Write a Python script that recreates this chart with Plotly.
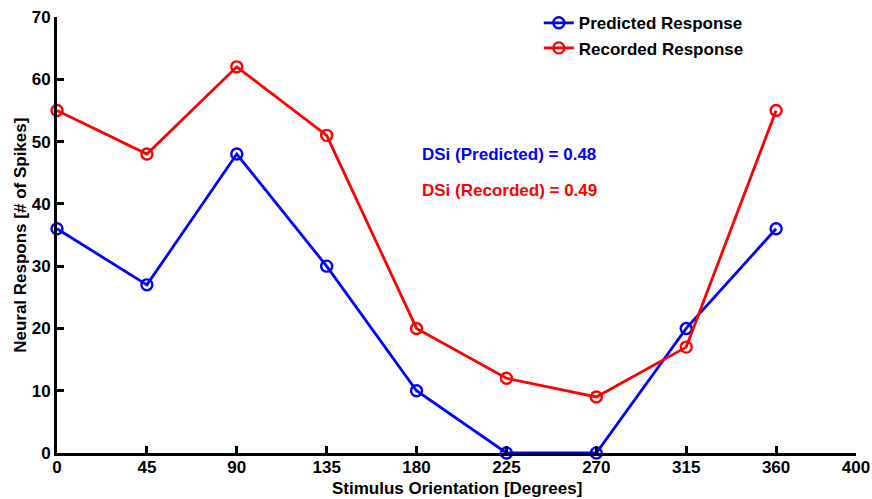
import plotly.graph_objects as go

orientation = [0, 45, 90, 135, 180, 225, 270, 315, 360]
predicted = [36, 27, 48, 30, 10, 0, 0, 20, 36]
recorded = [55, 48, 62, 51, 20, 12, 9, 17, 55]
dsi_predicted = 0.48
dsi_recorded = 0.49

x_ticks = [0, 45, 90, 135, 180, 225, 270, 315, 360, 400]
y_ticks = [0, 10, 20, 30, 40, 50, 60, 70]

font_bold = "Liberation Sans"
fs = 17

fig = go.Figure()
for name, vals, color in [("Predicted Response", predicted, "#0000ff"),
                          ("Recorded Response", recorded, "#ff0000")]:
    fig.add_trace(go.Scatter(
        x=orientation, y=vals, name=name, mode="lines+markers",
        line=dict(color=color, width=2.8),
        marker=dict(symbol="circle-open", size=11, color=color, line=dict(width=2.4, color=color)),
        cliponaxis=False,
    ))

fig.add_annotation(x=181.5, y=48, xref="x", yref="y", xanchor="left", yanchor="middle",
                   text=f"<b>DSi (Predicted) = {dsi_predicted:.2f}</b>", showarrow=False,
                   font=dict(family=font_bold, size=fs, color="#0000ff"))
fig.add_annotation(x=181.5, y=42.2, xref="x", yref="y", xanchor="left", yanchor="middle",
                   text=f"<b>DSi (Recorded) = {dsi_recorded:.2f}</b>", showarrow=False,
                   font=dict(family=font_bold, size=fs, color="#ff0000"))

# axis titles
fig.add_annotation(x=0.5, y=-0.081, xref="paper", yref="paper", xanchor="center", yanchor="middle",
                   text="<b>Stimulus Orientation [Degrees]</b>", showarrow=False,
                   font=dict(family=font_bold, size=fs, color="black"))
fig.add_annotation(x=-0.0465, y=0.5, xref="paper", yref="paper", xanchor="center", yanchor="middle",
                   text="<b>Neural Respons [# of Spikes]</b>", showarrow=False, textangle=-90,
                   font=dict(family=font_bold, size=fs, color="black"))

axis_common = dict(
    showline=True, linecolor="black", linewidth=2.8, showgrid=False, zeroline=False,
    ticks="inside", ticklen=7, tickwidth=2.8, tickcolor="black",
    tickfont=dict(family=font_bold, size=fs, color="black", weight="bold"),
    mirror=False, automargin=False,
)

fig.update_layout(
    width=872, height=499,
    margin=dict(l=57, r=16, t=17, b=46, autoexpand=False),
    paper_bgcolor="white", plot_bgcolor="white",
    xaxis=dict(range=[0, 400], tickvals=x_ticks, ticktext=[str(v) for v in x_ticks],
               ticklabelstandoff=-3, **axis_common),
    yaxis=dict(range=[0, 70], tickvals=y_ticks, ticktext=[str(v) for v in y_ticks], **axis_common),
    legend=dict(x=0.603, y=1.027, xanchor="left", yanchor="top", bgcolor="rgba(0,0,0,0)",
                font=dict(family=font_bold, size=fs, color="black", weight="bold"),
                itemwidth=30, tracegroupgap=0),
    showlegend=True,
)

fig.write_html("out.html")
